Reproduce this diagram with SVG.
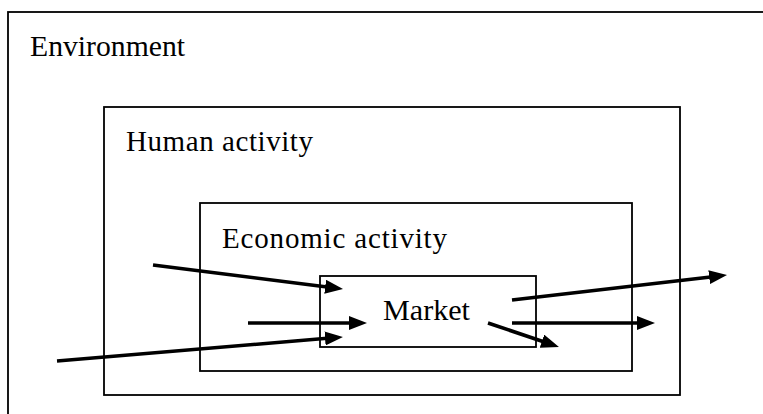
<svg xmlns="http://www.w3.org/2000/svg" width="763" height="414" viewBox="0 0 763 414">
<style>
.box{fill:none;stroke:#000;stroke-width:1.8}
.lbl{font-family:"Liberation Serif","Times New Roman",serif;font-size:29px;fill:#000}
.arr{stroke:#000;stroke-width:3.6;fill:none;marker-end:url(#ah)}
</style>
<defs>
<marker id="ah" markerUnits="userSpaceOnUse" markerWidth="18" markerHeight="14" refX="8" refY="7" orient="auto">
<path d="M0,0 L18,7 L0,14 z" fill="#000"/>
</marker>
</defs>
<rect width="763" height="414" fill="#fff"/>
<g id="environment">
<rect class="box" x="8" y="12" width="780" height="430"/>
<text class="lbl" x="30" y="56" textLength="155" lengthAdjust="spacingAndGlyphs">Environment</text>
</g>
<g id="human-activity">
<rect class="box" x="104" y="107" width="576" height="288"/>
<text class="lbl" x="126" y="151" textLength="187" lengthAdjust="spacing">Human activity</text>
</g>
<g id="economic-activity">
<rect class="box" x="200" y="203" width="432" height="168"/>
<text class="lbl" x="222" y="248" textLength="225" lengthAdjust="spacing">Economic activity</text>
</g>
<g id="market">
<rect class="box" x="320" y="276" width="216" height="71"/>
<text class="lbl" x="383" y="320" style="font-size:30px" textLength="87" lengthAdjust="spacingAndGlyphs">Market</text>
</g>
<g id="connectors">
<line class="arr" x1="153" y1="265" x2="333.1" y2="287.7"/>
<line class="arr" x1="248" y1="323" x2="357" y2="323"/>
<line class="arr" x1="57" y1="361" x2="333" y2="337.8"/>
<line class="arr" x1="512" y1="300" x2="717.1" y2="276.2"/>
<line class="arr" x1="512" y1="323" x2="645" y2="323"/>
<line class="arr" x1="488" y1="323" x2="549.5" y2="343.8"/>
</g>
</svg>
